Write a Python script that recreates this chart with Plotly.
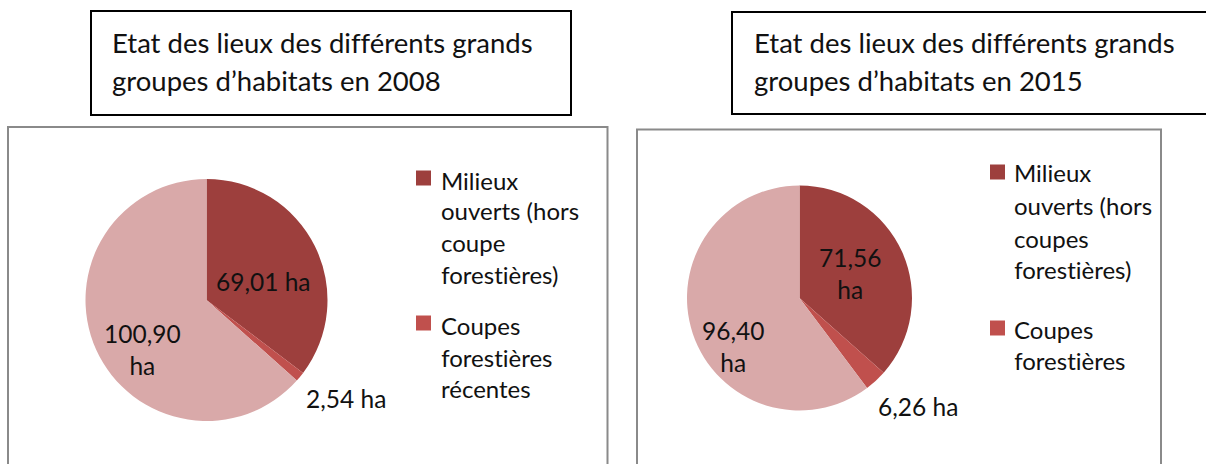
import plotly.graph_objects as go

# ---------------- data ----------------
categories = ["Milieux ouverts (hors coupe forestières)",
              "Coupes forestières récentes",
              "Milieux forestiers"]
# slice sizes as drawn in the reference (the third slice is estimated from its angle)
values_2008 = [69.01, 2.54, 124.0]
values_2015 = [71.56, 6.26, 118.0]
# data labels as printed on the reference
labels_2008 = ["69,01 ha", "2,54 ha", "100,90<br>ha"]
labels_2015 = ["71,56<br>ha", "6,26 ha", "96,40<br>ha"]

titles_2008 = ["Etat des lieux des différents grands", "groupes d’habitats en 2008"]
titles_2015 = ["Etat des lieux des différents grands", "groupes d’habitats en 2015"]

legend_2008 = [["Milieux", "ouverts (hors", "coupe", "forestières)"],
               ["Coupes", "forestières", "récentes"]]
legend_2015 = [["Milieux", "ouverts (hors", "coupes", "forestières)"],
               ["Coupes", "forestières"]]

colors = ["#9D3F3D", "#C0504D", "#D9A9A9"]

W, H = 1206, 464
FONT = "Lato"
TXT = "#111111"


def px(x):
    return x / W


def py(y):
    return 1 - y / H


fig = go.Figure()

# pies
pies = [
    (values_2008, (206.5, 300, 121)),
    (values_2015, (799.5, 298, 112.5)),
]
for vals, (cx, cy, r) in pies:
    fig.add_trace(go.Pie(
        labels=categories, values=vals, sort=False, direction="clockwise",
        rotation=0, textinfo="none", showlegend=False,
        marker=dict(colors=colors, line=dict(width=0)),
        domain=dict(x=[px(cx - r), px(cx + r)], y=[py(cy + r), py(cy - r)]),
        hovertemplate="%{label}<extra></extra>",
    ))

shapes = []
annotations = []

# title boxes
shapes.append(dict(type="rect", xref="paper", yref="paper",
                   x0=px(91), x1=px(571), y0=py(115), y1=py(11),
                   line=dict(color="black", width=2)))
shapes.append(dict(type="rect", xref="paper", yref="paper",
                   x0=px(732), x1=px(1215), y0=py(114), y1=py(12),
                   line=dict(color="black", width=2)))
for lines, x in [(titles_2008, 110), (titles_2015, 752)]:
    for line, y in zip(lines, [43, 80]):
        annotations.append(dict(text=line, x=px(x), y=py(y), xref="paper", yref="paper",
                                xanchor="left", yanchor="middle", showarrow=False,
                                align="left", font=dict(family=FONT, size=27.5, color=TXT)))

# chart boxes
shapes.append(dict(type="rect", xref="paper", yref="paper",
                   x0=px(8), x1=px(607.5), y0=py(475), y1=py(127),
                   line=dict(color="#8a8a8a", width=2)))
shapes.append(dict(type="rect", xref="paper", yref="paper",
                   x0=px(637), x1=px(1161), y0=py(475), y1=py(129.5),
                   line=dict(color="#8a8a8a", width=2)))

# data labels
labels_pos = [
    (labels_2008[0], 263, 281),
    (labels_2008[2], 142, 349),
    (labels_2008[1], 346, 398),
    (labels_2015[0], 850, 273),
    (labels_2015[2], 733, 346),
    (labels_2015[1], 918, 406),
]
for t, x, y in labels_pos:
    annotations.append(dict(text=t, x=px(x), y=py(y), xref="paper", yref="paper",
                            xanchor="center", yanchor="middle", showarrow=False,
                            font=dict(family=FONT, size=24.5, color=TXT)))

# legends
legends = [
    (legend_2008, 416, 439, [[180, 210, 243, 274], [325, 357, 388]], [178, 323]),
    (legend_2015, 990, 1012, [[173, 205, 238, 269], [329, 360]], [172, 328]),
]
for items, sqx, tx, ys, sqys in legends:
    for i, lines in enumerate(items):
        shapes.append(dict(type="rect", xref="paper", yref="paper",
                           x0=px(sqx), x1=px(sqx + 15),
                           y0=py(sqys[i] + 7.5), y1=py(sqys[i] - 7.5),
                           fillcolor=colors[i], line=dict(width=0)))
        for line, y in zip(lines, ys[i]):
            annotations.append(dict(text=line, x=px(tx), y=py(y), xref="paper", yref="paper",
                                    xanchor="left", yanchor="middle", showarrow=False,
                                    font=dict(family=FONT, size=24, color=TXT)))

fig.update_layout(width=W, height=H, margin=dict(l=0, r=0, t=0, b=0),
                  paper_bgcolor="white", plot_bgcolor="white",
                  shapes=shapes, annotations=annotations)

post = ("document.body.style.margin='0px';"
        "document.body.style.overflow='hidden';"
        "var st=document.createElement('style');"
        "st.textContent='svg text{font-variant-ligatures:none;font-feature-settings:\"liga\" 0;}';"
        "document.head.appendChild(st);")
fig.write_html("out.html", config={"displayModeBar": False}, post_script=post)
